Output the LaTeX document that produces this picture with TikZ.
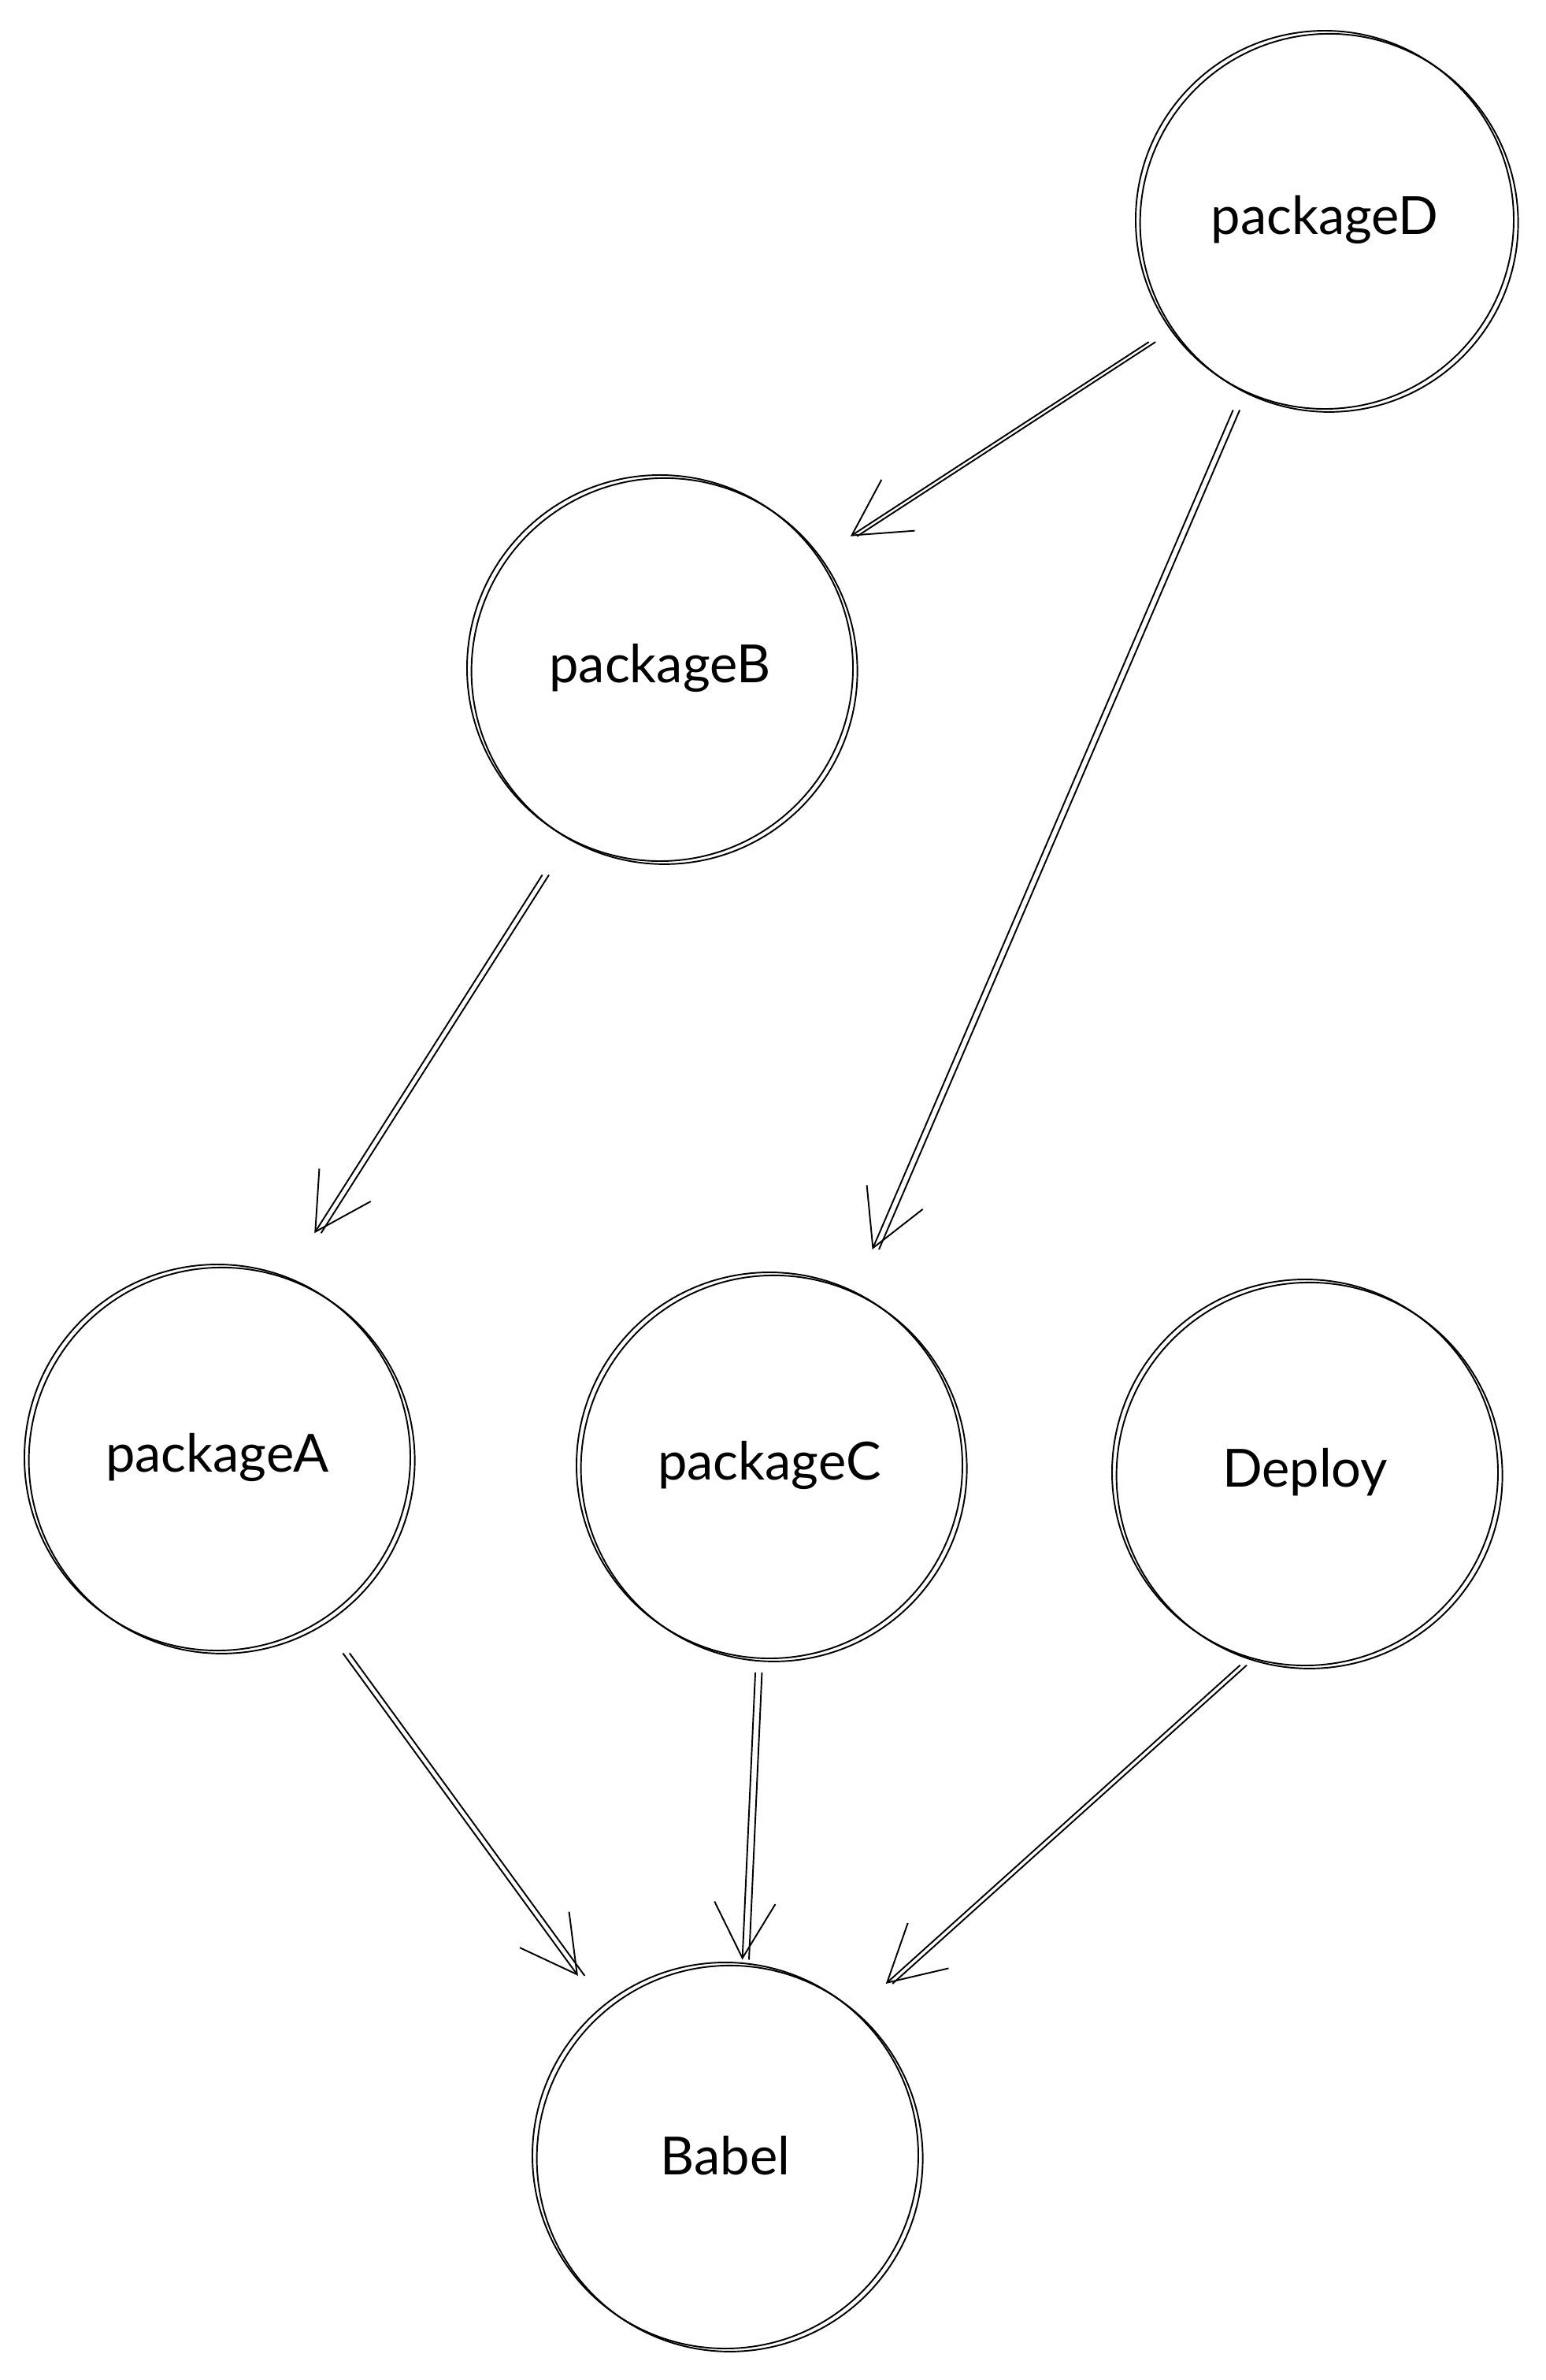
\documentclass[tikz,border=0pt]{standalone}
\usepackage{fontspec}
\setmainfont{Lato}
\usepackage{tikz}
\usetikzlibrary{arrows.meta}

\begin{document}
\begin{tikzpicture}[
        pkg/.style={draw, circle, minimum size=4.9cm, inner sep=0pt, line width=0.55pt,
            font=\fontsize{19}{23}\selectfont,
            postaction={draw, transform canvas={xshift=1.6pt, yshift=-1.1pt}}},
        dep/.style={-{Straight Barb[length=20pt, width=22pt]}, line width=0.55pt,
            postaction={draw, -, transform canvas={xshift=2.4pt}}}
    ]
        \useasboundingbox (0, 0) rectangle (19.62, -30.21);

        \node (pd) at (16.82,  -2.79) [pkg, minimum size=4.8cm] {packageD};
        \node (pb) at ( 8.38,  -8.48) [pkg] {packageB};
        \node (pa) at ( 2.76, -18.50) [pkg] {packageA};
        \node (pc) at ( 9.77, -18.60) [pkg] {packageC};
        \node (deploy) at (16.57, -18.69) [pkg] {Deploy};
        \node (babel) at ( 9.21, -27.36) [pkg] {Babel};

        \draw[dep, shorten <=8.8pt, shorten >=13.7pt] (pd.215) to (pb.35);
        \draw[dep, shorten <=7.7pt, shorten >=16.4pt] (pd.244) to (pc.64);
        \draw[dep, shorten <=16pt,  shorten >=18.6pt] (pb.241) to (pa.69);
        \draw[dep, shorten <=14pt,  shorten >=14pt]   (pa.302) to (babel.130);
        \draw[dep, shorten <=5pt,   shorten >=1pt]    (pc.266) to (babel.85);
        \draw[dep, shorten <=4pt,   shorten >=15pt]   (deploy.253) to (babel.48);
    \end{tikzpicture}
\end{document}
